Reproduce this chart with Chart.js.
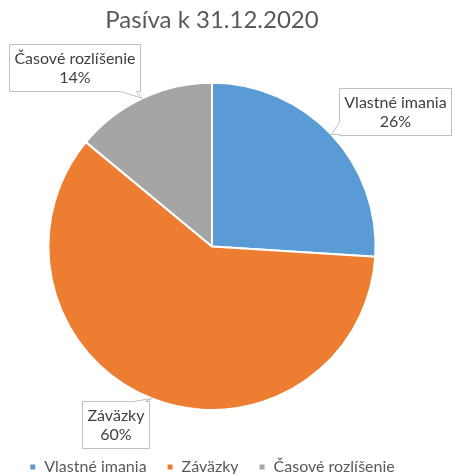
<!DOCTYPE html>
<html>
<head>
<meta charset="utf-8">
<script src="https://cdn.jsdelivr.net/npm/chart.js@4"></script>
<style>
    html, body { margin: 0; padding: 0; background: #fff; }
    #wrap { width: 453px; height: 474px; }
</style>
</head>
<body>
<div id="wrap"><canvas id="pasivaChart" width="453" height="474"></canvas></div>
<script>
const chartTitle = 'Pasíva k 31.12.2020';
const categories = ['Vlastné imania', 'Záväzky', 'Časové rozlíšenie'];
const shares = [26, 60, 14];
const sliceColors = ['#5B9BD5', '#ED7D31', '#A5A5A5'];

// where each callout box sits relative to the slice edge (dx, dy) and which side carries the pointer
const calloutOffsets = [[64, -23], [-36, 26], [-68, -31]];
const calloutSides = ['left', 'top', 'bottom'];

const FONT = 'Lato, "Open Sans", sans-serif';

const calloutPlugin = {
    id: 'callouts',
    afterDatasetsDraw(chart) {
        const ctx = chart.ctx;
        const meta = chart.getDatasetMeta(0);
        const values = chart.data.datasets[0].data;
        const total = values.reduce((a, b) => a + b, 0);

        ctx.save();
        ctx.font = `16px ${FONT}`;
        ctx.textAlign = 'center';
        ctx.textBaseline = 'middle';

        meta.data.forEach((arc, i) => {
            const { x, y, startAngle, endAngle, outerRadius } = arc.getProps(['x', 'y', 'startAngle', 'endAngle', 'outerRadius'], true);
            const mid = (startAngle + endAngle) / 2;
            const tipX = x + Math.cos(mid) * outerRadius;
            const tipY = y + Math.sin(mid) * outerRadius;

            const lines = [chart.data.labels[i], Math.round(values[i] / total * 100) + '%'];
            const w = Math.max(...lines.map(t => ctx.measureText(t).width)) + 10;
            const lineH = 19;
            const h = lines.length * lineH + 9;
            const cx = tipX + calloutOffsets[i][0];
            const cy = tipY + calloutOffsets[i][1];
            const x0 = Math.round(cx - w / 2) + 0.5, x1 = Math.round(cx + w / 2) + 0.5;
            const y0 = Math.round(cy - h / 2) + 0.5, y1 = Math.round(cy + h / 2) + 0.5;

            // box with a wedge pointing at the slice
            ctx.beginPath();
            ctx.moveTo(x0, y0);
            const side = calloutSides[i];
            if (side === 'top') {
                const b = Math.min(Math.max(tipX, x0 + 14), x1 - 4);
                ctx.lineTo(b - 12, y0); ctx.lineTo(tipX, tipY); ctx.lineTo(b, y0);
            }
            ctx.lineTo(x1, y0);
            ctx.lineTo(x1, y1);
            if (side === 'bottom') {
                const b = Math.min(Math.max(tipX, x0 + 4), x1 - 4);
                ctx.lineTo(b, y1); ctx.lineTo(tipX, tipY); ctx.lineTo(b - 16, y1);
            }
            ctx.lineTo(x0, y1);
            if (side === 'left') {
                const b = Math.min(Math.max(tipY, y0 + 14), y1 - 1);
                ctx.lineTo(x0, b); ctx.lineTo(tipX, tipY); ctx.lineTo(x0, b - 12);
            }
            ctx.closePath();
            ctx.fillStyle = '#ffffff';
            ctx.fill();
            ctx.strokeStyle = '#BFBFBF';
            ctx.lineWidth = 1;
            ctx.stroke();

            ctx.fillStyle = '#404040';
            const top = (y0 + y1) / 2 - (lines.length - 1) * lineH / 2;
            lines.forEach((t, k) => ctx.fillText(t, (x0 + x1) / 2, top + k * lineH));
        });
        ctx.restore();
    }
};

new Chart(document.getElementById('pasivaChart'), {
    type: 'pie',
    data: {
        labels: categories,
        datasets: [{
            data: shares,
            backgroundColor: sliceColors,
            borderColor: '#ffffff',
            borderWidth: 2
        }]
    },
    options: {
        responsive: false,
        animation: false,
        layout: { padding: { left: 0, right: 29, top: 0, bottom: -11 } },
        plugins: {
            title: {
                display: true,
                text: chartTitle,
                color: '#595959',
                font: { family: FONT, size: 24, weight: 'normal' },
                padding: { top: 6, bottom: 47 }
            },
            legend: {
                position: 'bottom',
                title: { display: true, text: ' ', font: { size: 10 }, padding: { top: 16, bottom: 0 } },
                labels: {
                    boxWidth: 7,
                    boxHeight: 7,
                    padding: 20,
                    color: '#595959',
                    font: { family: FONT, size: 16 }
                }
            },
            tooltip: { enabled: false }
        }
    },
    plugins: [calloutPlugin]
});
</script>
</body>
</html>
